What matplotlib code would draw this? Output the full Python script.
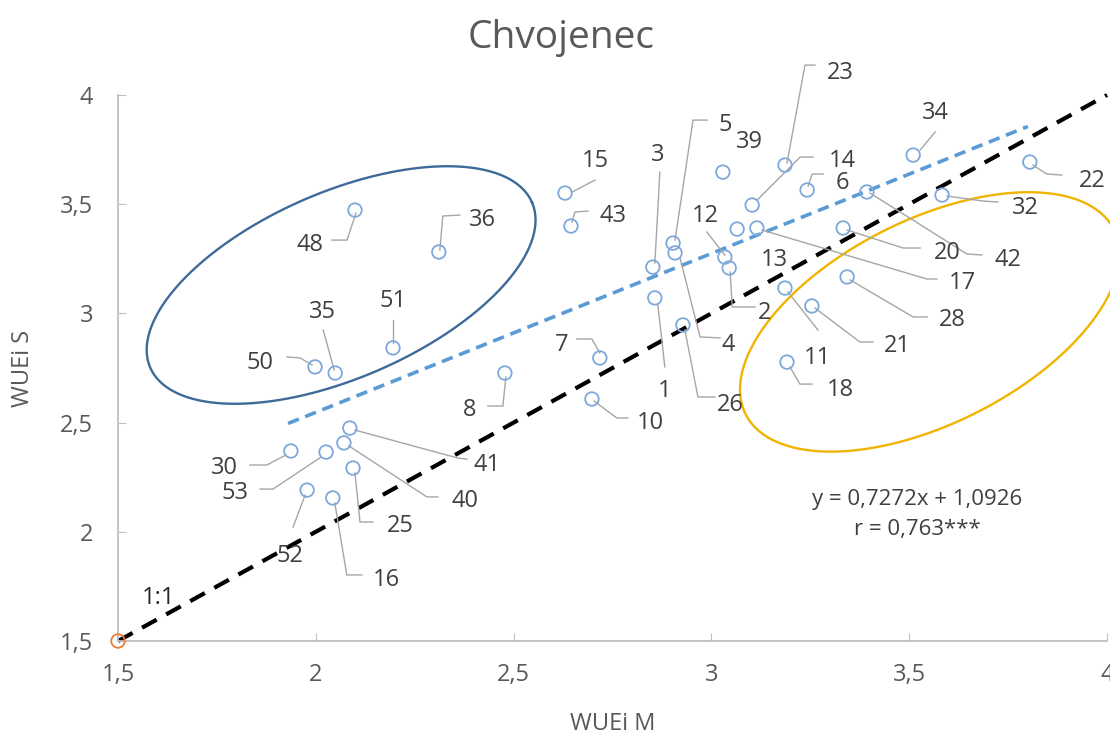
import matplotlib
matplotlib.use("Agg")
import matplotlib.pyplot as plt
import numpy as np

plt.rcParams["font.family"] = ["Open Sans", "DejaVu Sans"]

# WUEi of the trees, M on x and S on y, keyed by tree number
tree_ids = [48, 36, 35, 50, 51, 15, 43, 3, 5, 39, 4, 26, 1, 12, 2, 23, 14, 6, 13, 17,
            20, 42, 32, 22, 34, 11, 18, 21, 28, 7, 8, 10, 41, 40, 25, 30, 53, 52, 16]
wuei_m = [2.099, 2.311, 2.049, 1.998, 2.195, 2.630, 2.645, 2.852, 2.903, 3.029,
          2.908, 2.928, 2.857, 3.034, 3.045, 3.186, 3.103, 3.242, 3.065, 3.115,
          3.333, 3.393, 3.583, 3.805, 3.510, 3.186, 3.191, 3.254, 3.343, 2.718,
          2.478, 2.698, 2.086, 2.071, 2.094, 1.937, 2.026, 1.978, 2.043]
wuei_s = [3.473, 3.281, 2.727, 2.755, 2.842, 3.551, 3.400, 3.212, 3.322, 3.647,
          3.277, 2.947, 3.071, 3.258, 3.208, 3.679, 3.496, 3.565, 3.386, 3.391,
          3.391, 3.556, 3.542, 3.693, 3.725, 3.116, 2.777, 3.034, 3.167, 2.796,
          2.727, 2.608, 2.475, 2.407, 2.292, 2.370, 2.365, 2.191, 2.155]

# regression y = 0,7272x + 1,0926 over the range of the data
slope = 0.7272
intercept = 1.0926
trend_x = [1.93, 3.80]
one_to_one = [1.5, 4.0]

axis_ticks = [1.5, 2, 2.5, 3, 3.5, 4]
axis_tick_labels = ["1,5", "2", "2,5", "3", "3,5", "4"]

# label placement in pixels from the point (right, down) and leader line vertices
label_offsets = {
    48: (-45, 32), 36: (44, -35), 35: (-13, -64), 50: (-55, -7), 51: (0, -50),
    15: (30, -35), 43: (42, -13), 3: (5, -115), 5: (52, -121), 39: (27, -33),
    4: (53, 89), 26: (47, 77), 1: (10, 90), 12: (-20, -44), 2: (35, 42),
    23: (55, -95), 14: (90, -47), 6: (35, -10), 13: (37, 28), 17: (206, 52),
    20: (104, 22), 42: (141, 65), 32: (83, 10), 22: (62, 16), 34: (22, -45),
    11: (32, 67), 18: (53, 25), 21: (85, 37), 28: (105, 40), 7: (-38, -16),
    8: (-35, 34), 10: (58, 21), 41: (137, 34), 40: (121, 55), 25: (47, 55),
    30: (-66, 14), 53: (-91, 38), 52: (-17, 63), 16: (54, 79),
}
leaders = {
    48: [(-23, 30), (-8, 30), (1, 3)], 36: [(21, -37), (4, -36), (1, -2)],
    35: [(-12, -43), (-1, -3)], 50: [(-28, -10), (-15, -9), (-3, -2)],
    51: [(0, -28), (0, -5)], 15: [(30, -13), (7, -1)],
    43: [(17, -15), (4, -14), (1, -4)], 3: [(7, -95), (2, -4)],
    5: [(34, -123), (20, -123), (2, -3)], 4: [(45, 85), (25, 84), (5, 5)],
    26: [(32, 72), (15, 72), (2, 5)], 1: [(10, 69), (3, 7)],
    12: [(-18, -25), (0, -2)], 2: [(26, 39), (3, 39), (1, 4)],
    23: [(30, -100), (20, -100), (2, -2)], 14: [(61, -48), (48, -48), (5, -5)],
    6: [(16, -16), (5, -16), (1, -4)], 17: [(180, 51), (170, 51), (5, 2)],
    20: [(77, 20), (60, 20), (4, 2)], 42: [(115, 63), (100, 62), (3, 1)],
    32: [(56, 7), (41, 6), (5, 1)], 22: [(32, 13), (17, 12), (3, 3)],
    34: [(22, -23), (7, -5)], 11: [(33, 42), (3, 4)],
    18: [(25, 22), (13, 22), (3, 5)], 21: [(61, 36), (48, 36), (3, 2)],
    28: [(80, 40), (66, 40), (3, 3)], 7: [(-23, -19), (-8, -19), (0, -5)],
    8: [(-17, 33), (-2, 33), (1, 4)], 10: [(36, 19), (25, 19), (2, 2)],
    41: [(117, 31), (108, 30), (5, 2)], 40: [(94, 54), (83, 54), (5, 3)],
    25: [(20, 54), (7, 54), (2, 5)], 30: [(-41, 14), (-24, 14), (-5, 4)],
    53: [(-66, 37), (-53, 37), (-5, 5)], 52: [(-14, 37), (-2, 5)],
    16: [(29, 77), (14, 77), (2, 5)],
}

# hand-drawn group ellipses: centre (data), semi-axes (px), tilt (deg)
groups = [
    ((2.064, 3.130), 208, 93, 23.4, "#3E6A9A"),
    ((3.552, 2.961), 206, 102, 26.6, "#F0B400"),
]

fig = plt.figure(figsize=(11.1, 7.38), dpi=100)
ax = fig.add_axes([118 / 1110, 97 / 738, 989 / 1110, 546 / 738])
ax.set_xlim(1.5, 4)
ax.set_ylim(1.5, 4)


def shifted(x, y, dx, dy):
    # move a data point by screen pixels (dy positive = down)
    px, py = ax.transData.transform((x, y))
    return ax.transData.inverted().transform((px + dx, py - dy))


# 1:1 line and regression line
ax.plot(one_to_one, one_to_one, color="black", lw=3.0, dashes=(4, 2.6), zorder=2,
        clip_on=False)
trend_y = [slope * v + intercept for v in trend_x]
ax.plot(trend_x, trend_y, color="#5B9BD5", lw=2.6, dashes=(3.2, 1.9), zorder=2)

# group ellipses
t = np.linspace(0, 2 * np.pi, 300)
for centre, a, b, ang, col in groups:
    cx, cy = ax.transData.transform(centre)
    th = np.radians(ang)
    ex = cx + a * np.cos(t) * np.cos(th) - b * np.sin(t) * np.sin(th)
    ey = cy + a * np.cos(t) * np.sin(th) + b * np.sin(t) * np.cos(th)
    pts = ax.transData.inverted().transform(np.column_stack([ex, ey]))
    ax.plot(pts[:, 0], pts[:, 1], color=col, lw=1.7, zorder=2, clip_on=False)

# leader lines and data labels
for tid, x, y in zip(tree_ids, wuei_m, wuei_s):
    if tid in leaders:
        pts = np.array([shifted(x, y, dx, dy) for dx, dy in leaders[tid]])
        ax.plot(pts[:, 0], pts[:, 1], color="#A6A6A6", lw=1.0, zorder=3,
                clip_on=False)
    lx, ly = shifted(x, y, *label_offsets[tid])
    ax.text(lx, ly, str(tid), fontsize=17, color="#404040", ha="center",
            va="center_baseline", zorder=4)

ax.scatter(wuei_m, wuei_s, s=95, facecolors="none", edgecolors="#7EA8DA",
           linewidths=1.3, zorder=5)
ax.scatter([1.5], [1.5], s=95, facecolors="none", edgecolors="#ED7D31",
           linewidths=1.3, zorder=5, clip_on=False)

ax.text(1.602, 1.711, "1:1", fontsize=17, color="#262626", ha="center",
        va="center_baseline")
ax.text(3.52, 2.159, "y = 0,7272x + 1,0926", fontsize=16, color="#404040",
        ha="center", va="center_baseline")
ax.text(3.52, 2.022, "r = 0,763***", fontsize=16, color="#404040",
        ha="center", va="center_baseline")

# axes styling
for side in ["top", "right"]:
    ax.spines[side].set_visible(False)
for side in ["left", "bottom"]:
    ax.spines[side].set_color("#BFBFBF")
    ax.spines[side].set_linewidth(1.3)
ax.set_xticks(axis_ticks)
ax.set_xticklabels(axis_tick_labels)
ax.set_yticks(axis_ticks)
ax.set_yticklabels(axis_tick_labels)
ax.tick_params(direction="in", length=6, color="#BFBFBF", labelsize=17,
               labelcolor="#595959")
ax.tick_params(axis="x", pad=16)
ax.tick_params(axis="y", pad=18)

ax.set_xlabel("WUEi M", fontsize=17, color="#595959")
ax.set_ylabel("WUEi S", fontsize=17, color="#595959")
ax.xaxis.set_label_coords(0.5, -0.130)
ax.yaxis.set_label_coords(-0.084, 0.5)

fig.text(561 / 1110, 1 - 38 / 738, "Chvojenec", fontsize=28, color="#595959",
         ha="center", va="center")

fig.savefig("out.png", dpi=100)
